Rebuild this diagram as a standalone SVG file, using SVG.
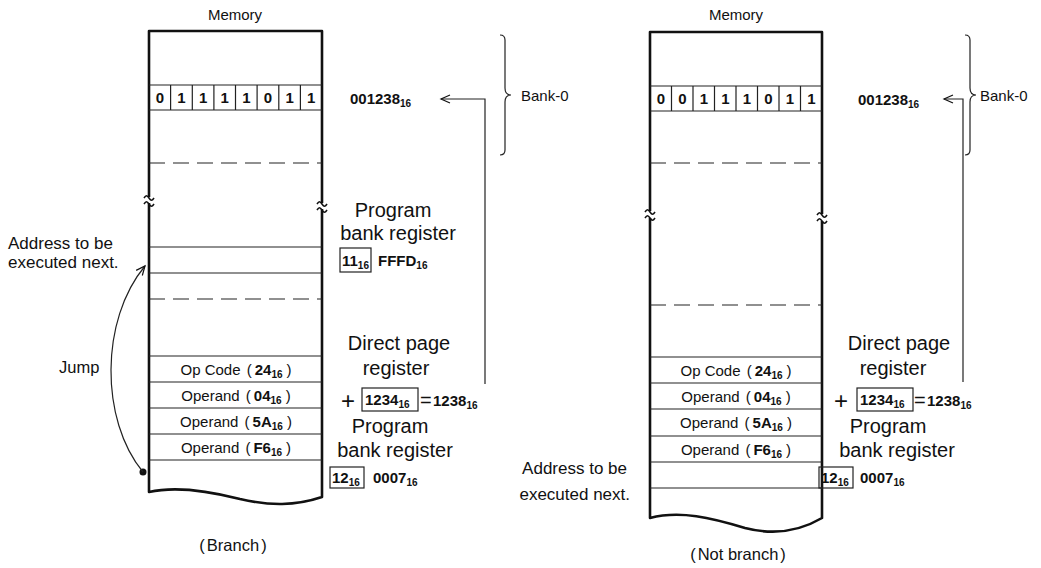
<svg xmlns="http://www.w3.org/2000/svg" width="1041" height="568" viewBox="0 0 1041 568">
<style>
.t{font-family:"Liberation Sans",Arial,sans-serif;fill:#111;font-size:15px}
.b{font-weight:bold}
.m{text-anchor:middle}
.e{text-anchor:end}
.big{font-size:20px}
.mid{font-size:16.5px}
.adr{font-size:17px}
.s{font-size:10px;font-weight:bold}
.mem{fill:none;stroke:#111;stroke-width:2.6;stroke-linejoin:round}
.ln{fill:none;stroke:#222;stroke-width:1.2}
.dash{stroke-dasharray:16 8}
.tl{fill:none;stroke:#111;stroke-width:1.6}
.bx{fill:none;stroke:#222;stroke-width:1.2}
</style>
<defs>
<marker id="ah" markerWidth="12" markerHeight="12" refX="10" refY="5" orient="auto" markerUnits="userSpaceOnUse">
<path d="M1,1 L10,5 L1,9" fill="none" stroke="#111" stroke-width="1.2"/>
</marker>
</defs>
<rect width="1041" height="568" fill="#fff"/>

<!-- LEFT PANEL -->
<g id="left-memory">
<text class="t m" x="235" y="20">Memory</text>
<path class="mem" d="M149,197 V31 H322 V203"/>
<path class="mem" d="M149,203 V492 C175,486 205,490 240,499 C270,506 295,506 322,497 V209"/>
<path class="tl" d="M144,198 c2,-3 3,-3 5,0 s3,3 5,0"/>
<path class="tl" d="M144,204 c2,-3 3,-3 5,0 s3,3 5,0"/>
<path class="tl" d="M317,204 c2,-3 3,-3 5,0 s3,3 5,0"/>
<path class="tl" d="M317,210 c2,-3 3,-3 5,0 s3,3 5,0"/>
<g class="ln">
<path d="M149,85 H322 M149,110 H322"/>
<path d="M170.6,85 V110 M192.3,85 V110 M213.9,85 V110 M235.5,85 V110 M257.1,85 V110 M278.8,85 V110 M300.4,85 V110"/>
<path class="dash" d="M149,163 H322"/>
<path d="M149,247 H322 M149,273 H322"/>
<path class="dash" d="M149,299 H322"/>
<path d="M149,356 H322 M149,382 H322 M149,408 H322 M149,434 H322 M149,460 H322"/>
</g>
<g class="t b m">
<text x="159.8" y="103">0</text><text x="181.4" y="103">1</text><text x="203.1" y="103">1</text><text x="224.7" y="103">1</text>
<text x="246.3" y="103">1</text><text x="267.9" y="103">0</text><text x="289.6" y="103">1</text><text x="311.2" y="103">1</text>
</g>
<text class="t m" x="236" y="375">Op Code <tspan dx="2">(</tspan><tspan class="b" dx="3">24</tspan><tspan class="s" dy="3">16</tspan><tspan dy="-3" dx="4">)</tspan></text>
<text class="t m" x="236" y="401">Operand <tspan dx="2">(</tspan><tspan class="b" dx="3">04</tspan><tspan class="s" dy="3">16</tspan><tspan dy="-3" dx="4">)</tspan></text>
<text class="t m" x="236" y="427">Operand <tspan dx="2">(</tspan><tspan class="b" dx="3">5A</tspan><tspan class="s" dy="3">16</tspan><tspan dy="-3" dx="4">)</tspan></text>
<text class="t m" x="236" y="453">Operand <tspan dx="2">(</tspan><tspan class="b" dx="3">F6</tspan><tspan class="s" dy="3">16</tspan><tspan dy="-3" dx="4">)</tspan></text>
<circle cx="143" cy="472" r="3.5" fill="#111"/>
</g>

<g id="left-labels">
<text class="t b" x="350" y="104">001238<tspan class="s" dy="3">16</tspan></text>
<path class="ln" d="M500,35 q5,0 5,5 V88 q0,7 6,7 q-6,0 -6,7 V150 q0,5 -5,5"/>
<text class="t" x="521" y="101">Bank-0</text>
<text class="t big m" x="393" y="217">Program</text>
<text class="t big m" x="398" y="240">bank register</text>
<rect class="bx" x="340" y="248" width="31" height="24"/>
<text class="t b" x="342" y="266">11<tspan class="s" dy="3">16</tspan></text>
<text class="t b" x="378" y="266">FFFD<tspan class="s" dy="3">16</tspan></text>
<text class="t adr" x="8" y="249">Address to be</text>
<text class="t adr" x="8" y="268">executed next.</text>
<text class="t mid" x="59" y="373">Jump</text>
<text class="t big m" x="399" y="350">Direct page</text>
<text class="t big m" x="396" y="375">register</text>
<text class="t" x="341" y="409" style="font-size:24px">+</text>
<rect class="bx" x="362" y="388" width="56" height="23"/>
<text class="t b" x="365" y="405">1234<tspan class="s" dy="3">16</tspan></text>
<text class="t" x="420" y="407" style="font-size:20px">=</text>
<text class="t b" x="433" y="406">1238<tspan class="s" dy="3">16</tspan></text>
<text class="t big m" x="390" y="433">Program</text>
<text class="t big m" x="395" y="457">bank register</text>
<rect class="bx" x="330" y="467" width="34" height="21"/>
<text class="t b" x="332" y="483">12<tspan class="s" dy="3">16</tspan></text>
<text class="t b" x="373" y="483">0007<tspan class="s" dy="3">16</tspan></text>
<text class="t mid m" x="233" y="551">(<tspan dx="2">Branch</tspan><tspan dx="2">)</tspan></text>
</g>

<!-- RIGHT PANEL -->
<g id="right-memory">
<text class="t m" x="736" y="20">Memory</text>
<path class="mem" d="M650,211 V32 H822 V214"/>
<path class="mem" d="M650,218 V518 C680,510 712,518 745,528 C780,537 805,528 822,518 V221"/>
<path class="tl" d="M645,212 c2,-3 3,-3 5,0 s3,3 5,0"/>
<path class="tl" d="M645,218 c2,-3 3,-3 5,0 s3,3 5,0"/>
<path class="tl" d="M817,215 c2,-3 3,-3 5,0 s3,3 5,0"/>
<path class="tl" d="M817,221 c2,-3 3,-3 5,0 s3,3 5,0"/>
<g class="ln">
<path d="M650,86 H822 M650,111 H822"/>
<path d="M671.5,86 V111 M693,86 V111 M714.5,86 V111 M736,86 V111 M757.5,86 V111 M779,86 V111 M800.5,86 V111"/>
<path class="dash" d="M650,163 H822"/>
<path class="dash" d="M650,305 H822"/>
<path d="M650,357 H822 M650,383 H822 M650,409 H822 M650,436 H822 M650,462 H822 M650,488 H822"/>
</g>
<g class="t b m">
<text x="660.8" y="104">0</text><text x="682.3" y="104">0</text><text x="703.8" y="104">1</text><text x="725.3" y="104">1</text>
<text x="746.8" y="104">1</text><text x="768.3" y="104">0</text><text x="789.8" y="104">1</text><text x="811.3" y="104">1</text>
</g>
<text class="t m" x="736" y="376">Op Code <tspan dx="2">(</tspan><tspan class="b" dx="3">24</tspan><tspan class="s" dy="3">16</tspan><tspan dy="-3" dx="4">)</tspan></text>
<text class="t m" x="736" y="402">Operand <tspan dx="2">(</tspan><tspan class="b" dx="3">04</tspan><tspan class="s" dy="3">16</tspan><tspan dy="-3" dx="4">)</tspan></text>
<text class="t m" x="736" y="428">Operand <tspan dx="2">(</tspan><tspan class="b" dx="3">5A</tspan><tspan class="s" dy="3">16</tspan><tspan dy="-3" dx="4">)</tspan></text>
<text class="t m" x="736" y="455">Operand <tspan dx="2">(</tspan><tspan class="b" dx="3">F6</tspan><tspan class="s" dy="3">16</tspan><tspan dy="-3" dx="4">)</tspan></text>
</g>

<g id="right-labels">
<text class="t b" x="858" y="105">001238<tspan class="s" dy="3">16</tspan></text>
<path class="ln" d="M965,35 q5,0 5,5 V88 q0,7 6,7 q-6,0 -6,7 V150 q0,5 -5,5"/>
<text class="t" x="980" y="101">Bank-0</text>
<text class="t adr e" x="627" y="474">Address to be</text>
<text class="t adr e" x="630" y="500">executed next.</text>
<text class="t big m" x="899" y="350">Direct page</text>
<text class="t big m" x="893" y="375">register</text>
<text class="t" x="834" y="409" style="font-size:24px">+</text>
<rect class="bx" x="857" y="388" width="56" height="23"/>
<text class="t b" x="860" y="405">1234<tspan class="s" dy="3">16</tspan></text>
<text class="t" x="914" y="407" style="font-size:20px">=</text>
<text class="t b" x="927" y="406">1238<tspan class="s" dy="3">16</tspan></text>
<text class="t big m" x="888" y="433">Program</text>
<text class="t big m" x="897" y="457">bank register</text>
<rect class="bx" x="819" y="467" width="34" height="21"/>
<text class="t b" x="821" y="483">12<tspan class="s" dy="3">16</tspan></text>
<text class="t b" x="860" y="483">0007<tspan class="s" dy="3">16</tspan></text>
<text class="t mid m" x="738" y="560">(<tspan dx="2">Not branch</tspan><tspan dx="2">)</tspan></text>
</g>

<g id="connectors">
<path class="ln" d="M485,384 V99 H441" marker-end="url(#ah)"/>
<path class="ln" d="M963,382 V99 H944" marker-end="url(#ah)"/>
<path class="ln" d="M143,472 C100,420 100,320 145,266" marker-end="url(#ah)"/>
</g>
</svg>
